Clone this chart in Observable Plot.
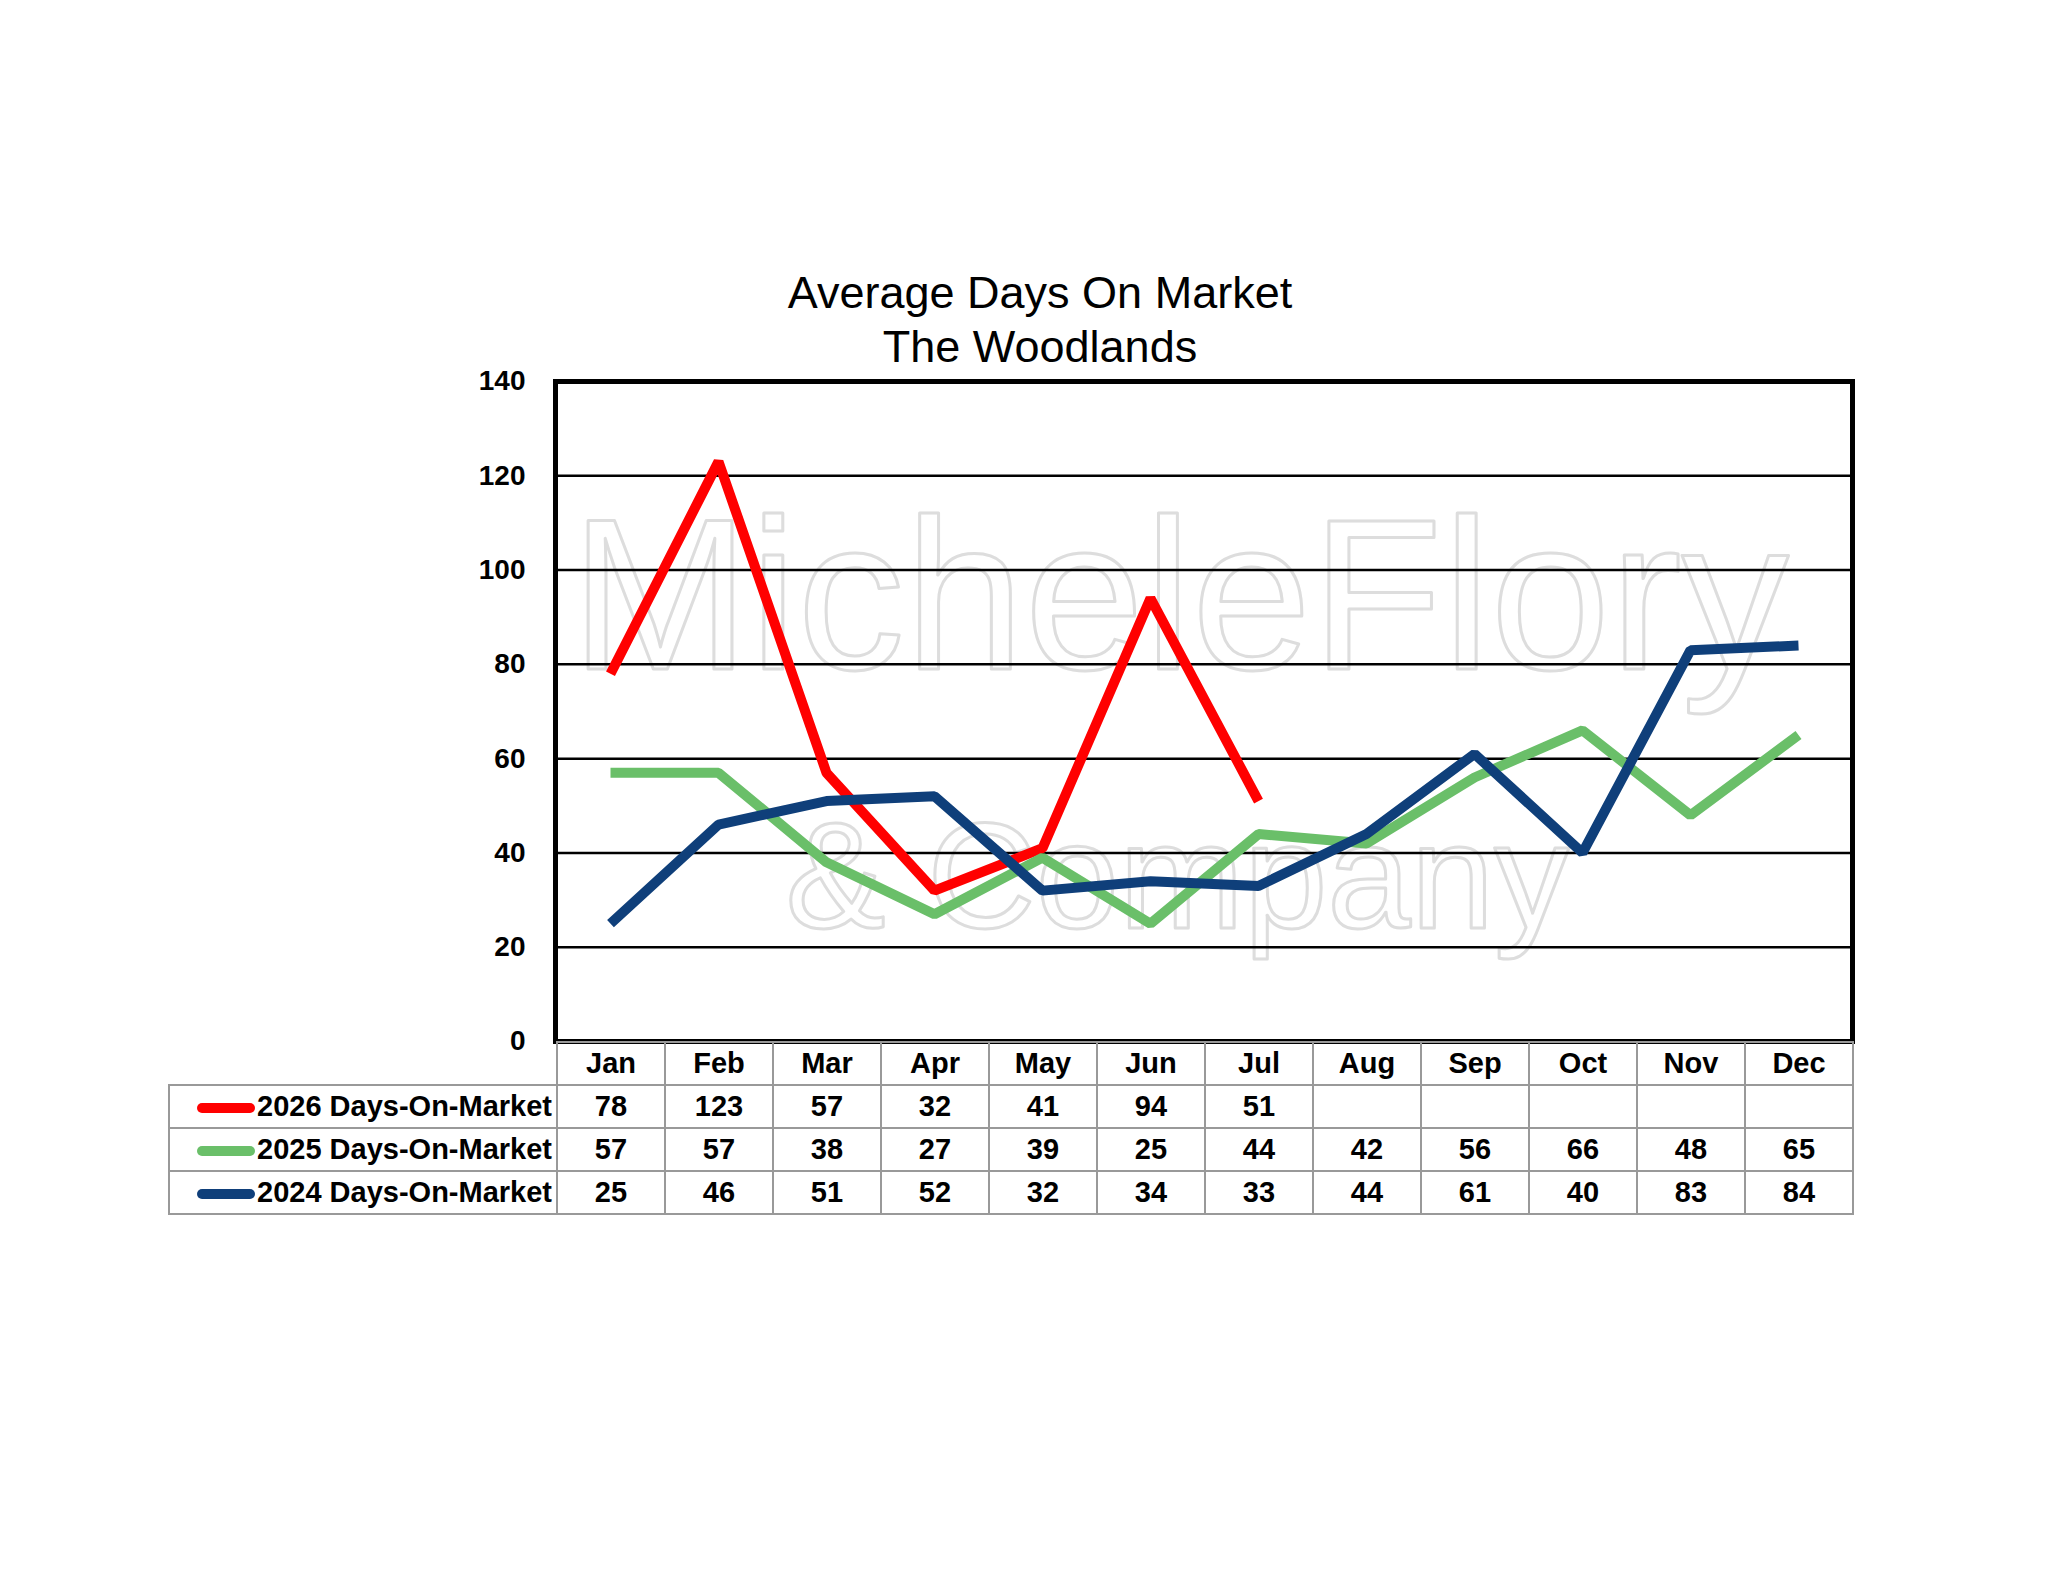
<!DOCTYPE html>
<html><head><meta charset="utf-8">
<script src="https://cdn.jsdelivr.net/npm/d3@7"></script>
<script src="https://cdn.jsdelivr.net/npm/@observablehq/plot@0.6"></script>
<style>
body{margin:0;background:#fff;font-family:Arial,"Liberation Sans",sans-serif;}
#wrap{position:relative;width:2048px;height:1583px;}
#title{position:absolute;left:740px;width:600px;top:266px;text-align:center;font-size:45px;line-height:54px;color:#000;}
table{position:absolute;left:168px;top:1041px;border-collapse:collapse;font-weight:bold;font-size:29px;}
td{border:2px solid #999;height:41px;padding:0;text-align:center;width:106px;}
td.lab{width:382px;text-align:right;white-space:nowrap;padding-right:4px;}
td.blank{border:none;}
.sw{display:inline-block;width:58px;height:10px;border-radius:5px;vertical-align:middle;margin-right:2px;}
</style></head><body>
<div id="wrap"><div id="title">Average Days On Market<br>The Woodlands</div></div>
<script>
const months=["Jan","Feb","Mar","Apr","May","Jun","Jul","Aug","Sep","Oct","Nov","Dec"];
const s2026=[78,123,57,32,41,94,51,null,null,null,null,null];
const s2025=[57,57,38,27,39,25,44,42,56,66,48,65];
const s2024=[25,46,51,52,32,34,33,44,61,40,83,84];
const names=["2026 Days-On-Market","2025 Days-On-Market","2024 Days-On-Market"];
const colors=["#ff0000","#6abf69","#0f3f7a"];
const yTicks=[0,20,40,60,80,100,120,140];
const series=[s2026,s2025,s2024];
const data=[];
series.forEach((s,i)=>s.forEach((v,j)=>{if(v!=null)data.push({name:names[i],month:months[j],v});}));
const chart=Plot.plot({
  width:2048,height:1583,marginLeft:555,marginRight:196,marginTop:381,marginBottom:542,
  x:{type:"point",domain:months,padding:0.5,axis:null},
  y:{domain:[0,140],ticks:yTicks,label:null,tickSize:0,tickPadding:30,tickFormat:d=>d},
  color:{domain:names,range:colors},
  style:{fontSize:"28px",fontWeight:"bold",fontFamily:"Arial, Liberation Sans, sans-serif",color:"#000"},
  marks:[
    Plot.text(["MicheleFlory"],{frameAnchor:"top-left",dx:15,dy:135,text:d=>d,fontSize:215,fill:"none",stroke:"#ddd",strokeWidth:3,fontWeight:"normal",textAnchor:"start"}),
    Plot.text(["& Company"],{frameAnchor:"top-left",dx:230,dy:440,text:d=>d,fontSize:150,fill:"none",stroke:"#ddd",strokeWidth:3,fontWeight:"normal",textAnchor:"start"}),
    Plot.gridY(yTicks,{stroke:"#000",strokeOpacity:1,strokeWidth:2.5}),
    Plot.frame({stroke:"#000",strokeWidth:5}),
    Plot.line(data,{x:"month",y:"v",z:"name",stroke:"name",strokeWidth:10,strokeLinecap:"butt",strokeLinejoin:"miter"})
  ]
});
const wrap=document.getElementById("wrap");
chart.style.position="absolute";chart.style.left="0";chart.style.top="0";
wrap.appendChild(chart);
let h='<tr><td class="blank"></td>'+months.map(m=>`<td>${m}</td>`).join("")+'</tr>';
series.forEach((s,i)=>{h+=`<tr><td class="lab"><span class="sw" style="background:${colors[i]}"></span>${names[i]}</td>`+s.map(v=>`<td>${v==null?"":v}</td>`).join("")+'</tr>';});
const t=document.createElement("table");t.innerHTML=h;wrap.appendChild(t);
</script></body></html>
